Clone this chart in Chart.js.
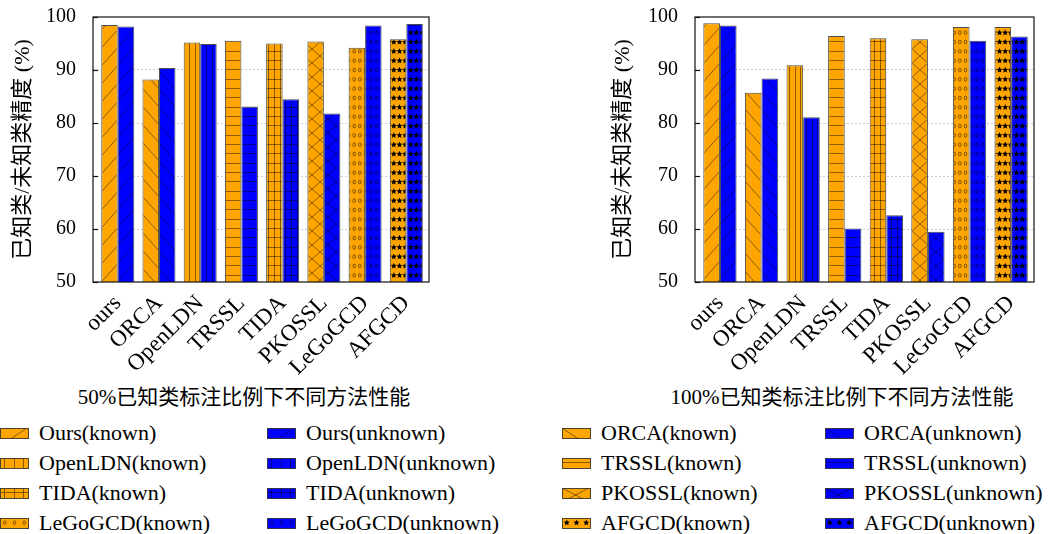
<!DOCTYPE html>
<html>
<head>
<meta charset="utf-8">
<script src="https://cdn.jsdelivr.net/npm/chart.js@4.4.1/dist/chart.umd.min.js"></script>
<style>
  html, body { margin: 0; padding: 0; background: #fff; }
  body { width: 1050px; height: 534px; position: relative; overflow: hidden;
         font-family: "Liberation Serif", "Noto Sans CJK SC", serif; color: #000; }
  .subtitle { position: absolute; top: 384px; font-size: 21px; line-height: 26px;
              white-space: nowrap; transform: translateX(-50%); }
  .legend-item { position: absolute; height: 30px; display: flex; align-items: center;
                 font-size: 22px; white-space: nowrap; }
  .legend-item canvas { margin-right: 10px; display: block; }
</style>
</head>
<body>
<canvas id="chart50" width="440" height="380" style="position:absolute;left:0;top:0"></canvas>
<canvas id="chart100" width="450" height="380" style="position:absolute;left:600px;top:0"></canvas>
<div class="subtitle" style="left:244px">50%已知类标注比例下不同方法性能</div>
<div class="subtitle" style="left:842px">100%已知类标注比例下不同方法性能</div>
<div id="legend"></div>

<script>
// Methods on the x axis and their names in the legend
const methods     = ['ours', 'ORCA', 'OpenLDN', 'TRSSL', 'TIDA', 'PKOSSL', 'LeGoGCD', 'AFGCD'];
const legendNames = ['Ours', 'ORCA', 'OpenLDN', 'TRSSL', 'TIDA', 'PKOSSL', 'LeGoGCD', 'AFGCD'];
const hatches     = ['/', '\\', '|', '-', '+', 'x', 'o', '*'];

// Accuracy (%) with 50% of known classes labelled
const known50   = [98.5, 88.2, 95.2, 95.5, 95.0, 95.4, 94.2, 95.8];
const unknown50 = [98.2, 90.4, 94.9, 83.1, 84.5, 81.8, 98.4, 98.7];

// Accuracy (%) with 100% of known classes labelled
const known100   = [98.8, 85.7, 90.9, 96.4, 96.0, 95.8, 98.1, 98.1];
const unknown100 = [98.4, 88.4, 81.1, 60.1, 62.6, 59.5, 95.5, 96.3];

const yTicks = [50, 60, 70, 80, 90, 100];

const KNOWN_COLOR = '#FFA500';
const UNKNOWN_COLOR = '#0000FF';
const EDGE = 'rgba(55,55,55,0.9)';
const SERIF = "'Liberation Serif', serif";

function star(g, cx, cy, r) {
  g.beginPath();
  for (let k = 0; k < 10; k++) {
    const a = -Math.PI / 2 + k * Math.PI / 5;
    const rr = k % 2 ? r * 0.45 : r;
    g.lineTo(cx + rr * Math.cos(a), cy + rr * Math.sin(a));
  }
  g.closePath();
  g.fill();
}

// One repeating tile of a hatch pattern on a solid fill; sx widens the tile
function hatchTile(color, hatch, sx = 1) {
  const sizes = { '/': [16, 18], '\\': [16, 18], 'x': [16, 14] };
  const [bw, h] = sizes[hatch] || [17, 28];
  const w = Math.round(bw * sx);
  const c = document.createElement('canvas');
  c.width = w; c.height = h;
  const g = c.getContext('2d');
  g.fillStyle = color;
  g.fillRect(0, 0, w, h);
  g.strokeStyle = 'rgba(0,0,0,0.45)';
  g.lineWidth = 1;
  g.fillStyle = '#000';
  const line = (x1, y1, x2, y2) => { g.beginPath(); g.moveTo(x1, y1); g.lineTo(x2, y2); g.stroke(); };
  const cols = [2.8, 8.5, 14.2].map(x => x * w / 17);
  const vcols = [2.5, 8.5, 13.5].map(x => Math.floor(x * w / 17) + 0.5);
  const rows = [4.7, 14, 23.3];
  switch (hatch) {
    case '/':  for (const dx of [-w, 0, w]) line(dx, h, dx + w, 0); break;
    case '\\': for (const dx of [-w, 0, w]) line(dx, 0, dx + w, h); break;
    case 'x':  for (const dx of [-w, 0, w]) { line(dx, h, dx + w, 0); line(dx, 0, dx + w, h); } break;
    case '|':  vcols.forEach(x => line(x, 0, x, h)); break;
    case '-':  [4.5, 13.5, 23.5].forEach(y => line(0, y, w, y)); break;
    case '+':
      vcols.forEach(x => line(x, 0, x, h));
      [4.5, 13.5, 23.5].forEach(y => line(0, y, w, y));
      break;
    case 'o':
      g.strokeStyle = 'rgba(0,0,0,0.6)';
      g.lineWidth = 0.8;
      rows.forEach(y => cols.forEach(x => {
        g.beginPath(); g.ellipse(x, y, 1.3, 1.8, 0, 0, Math.PI * 2); g.stroke();
      }));
      break;
    case '*':
      rows.forEach(y => cols.forEach(x => star(g, x, y, 3.2)));
      break;
  }
  return c;
}

// Box frame and inward y ticks
const framePlugin = {
  id: 'frame',
  afterDatasetsDraw(chart) {
    const { ctx, chartArea: a, scales: { y } } = chart;
    ctx.save();
    ctx.strokeStyle = '#111';
    ctx.lineWidth = 1.2;
    y.ticks.forEach(t => {
      const p = Math.round(y.getPixelForValue(t.value)) + 0.5;
      ctx.beginPath(); ctx.moveTo(a.left, p); ctx.lineTo(a.left + 5, p); ctx.stroke();
    });
    ctx.strokeRect(a.left, a.top, a.right - a.left, a.bottom - a.top);
    ctx.restore();
  }
};

function makeChart(id, known, unknown, yAxisWidth, rightPad) {
  const canvas = document.getElementById(id);
  const ctx = canvas.getContext('2d');
  const patterns = color => hatches.map(h => ctx.createPattern(hatchTile(color, h), 'repeat'));
  const points = vals => vals.map((v, i) => ({ x: i, y: v }));

  return new Chart(ctx, {
    type: 'bar',
    data: {
      datasets: [
        { label: 'known', data: points(known), backgroundColor: patterns(KNOWN_COLOR),
          borderColor: EDGE, borderWidth: 1, categoryPercentage: 0.8, barPercentage: 1 },
        { label: 'unknown', data: points(unknown), backgroundColor: patterns(UNKNOWN_COLOR),
          borderColor: EDGE, borderWidth: 1, categoryPercentage: 0.8, barPercentage: 1 }
      ]
    },
    options: {
      responsive: false,
      animation: false,
      layout: { padding: { top: 17, right: rightPad, left: 0, bottom: 0 } },
      plugins: { legend: { display: false }, tooltip: { enabled: false } },
      scales: {
        x: {
          type: 'linear', min: -0.6, max: 7.55, offset: false,
          afterBuildTicks: s => { s.ticks = methods.map((_, i) => ({ value: i })); },
          afterFit: s => { s.height = 98; },
          grid: { display: false, drawTicks: false, offset: false },
          border: { display: false },
          ticks: {
            autoSkip: false, minRotation: 45, maxRotation: 45, padding: 8, color: '#000',
            font: { family: SERIF, size: 23 },
            callback: v => methods[v]
          }
        },
        y: {
          min: 50, max: 100,
          afterBuildTicks: s => { s.ticks = yTicks.map(v => ({ value: v })); },
          afterFit: s => { s.width = yAxisWidth; s.paddingTop = 0; s.paddingBottom = 0; },
          grid: {
            drawTicks: false, lineWidth: 1,
            color: c => (c.tick.value === 50 || c.tick.value === 100) ? 'rgba(0,0,0,0)' : 'rgba(170,170,170,0.6)'
          },
          border: { display: false, dash: [2, 2] },
          ticks: { padding: 17, color: '#000', font: { family: SERIF, size: 20 } },
          title: {
            display: true, text: '已知类/未知类精度 (%)', color: '#000',
            font: { family: "'Liberation Serif', 'Noto Sans CJK SC', sans-serif", size: 22 },
            padding: { top: 10, bottom: 0 }
          }
        }
      }
    },
    plugins: [framePlugin]
  });
}

makeChart('chart50', known50, unknown50, 93, 11);
makeChart('chart100', known100, unknown100, 95, 16);

// Shared legend: one entry per method and class type, four per row
const legendCols = [0, 267, 562, 825];
const legendTop = 418;
const legendRowH = 30;
const legendEl = document.getElementById('legend');
methods.forEach((m, i) => {
  [['known', KNOWN_COLOR], ['unknown', UNKNOWN_COLOR]].forEach(([kind, color], j) => {
    const k = i * 2 + j;
    const item = document.createElement('div');
    item.className = 'legend-item';
    item.style.left = legendCols[k % 4] + 'px';
    item.style.top = (legendTop + Math.floor(k / 4) * legendRowH) + 'px';
    const sw = document.createElement('canvas');
    sw.width = 29; sw.height = 11;
    const g = sw.getContext('2d');
    g.fillStyle = g.createPattern(hatchTile(color, hatches[i], 29 / 17), 'repeat');
    g.fillRect(0, 0, 29, 11);
    g.strokeStyle = EDGE;
    g.lineWidth = 1;
    g.strokeRect(0.5, 0.5, 28, 10);
    item.appendChild(sw);
    const txt = document.createElement('span');
    txt.textContent = legendNames[i] + '(' + kind + ')';
    item.appendChild(txt);
    legendEl.appendChild(item);
  });
});
</script>
</body>
</html>
